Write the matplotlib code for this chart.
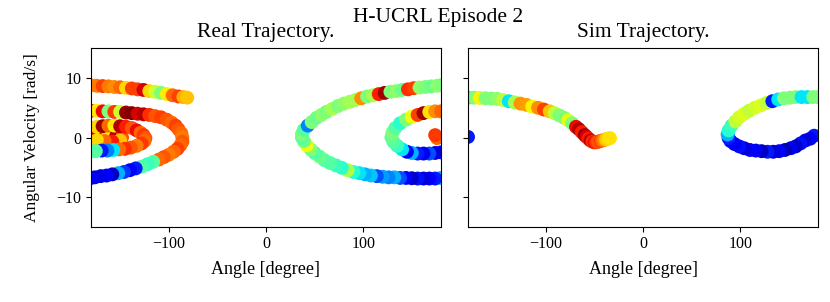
import numpy as np
import matplotlib
matplotlib.use("Agg")
import matplotlib.pyplot as plt

plt.rcParams['font.family'] = ['Liberation Serif', 'DejaVu Serif']

# Real trajectory, split into the swings seen in the picture
# (angle [deg], angular velocity [rad/s], colour value 0..1 on jet)
real_a1 = [176, 174, -179, -170, -162, -154, -148, -150, -158, -166, -174]
real_v1 = [-0.1, 0.4, 0.2, 0.4, 0.5, 0.3, 0.0, -0.5, -0.7, -0.6, -0.4]
real_c1 = [0.8, 0.85, 0.82, 0.9, 0.66, 0.95, 0.82, 0.7, 0.88, 0.8, 0.68]

real_a2 = [-180, -174, -168, -162, -156, -150, -144, -138, -133, -129, -126, -124,
           -125, -128, -133, -139, -145, -151, -157, -163, -169, -175, -180]
real_v2 = [1.6, 1.8, 1.9, 2.0, 2.0, 1.9, 1.8, 1.6, 1.2, 0.8, 0.4, -0.1,
           -0.6, -1.0, -1.4, -1.7, -1.9, -2.0, -2.1, -2.2, -2.2, -2.3, -2.3]
real_c2 = [0.9, 0.68, 0.97, 0.8, 0.66, 0.95, 0.88, 0.82, 0.9, 0.8, 0.85, 0.82,
           0.8, 0.85, 0.78, 0.82, 0.86, 0.8, 0.35, 0.25, 0.15, 0.45, 0.45]

real_a3 = [180, 174, 168, 162, 156, 150, 145, 140, 135, 131, 129, 130, 133, 138,
           144, 150, 156, 162, 168, 174, 180]
real_v3 = [-2.5, -2.6, -2.7, -2.7, -2.7, -2.6, -2.4, -2.0, -1.4, -0.7, 0.0, 0.8,
           1.6, 2.4, 3.0, 3.5, 3.8, 4.1, 4.3, 4.4, 4.4]
real_c3 = [0.12, 0.08, 0.2, 0.1, 0.15, 0.3, 0.12, 0.35, 0.42, 0.45, 0.47, 0.5,
           0.45, 0.4, 0.5, 0.64, 0.84, 0.97, 0.67, 0.76, 0.8]

real_a4 = [-180, -174, -168, -162, -156, -150, -144, -138, -132, -126, -120, -114,
           -108, -102, -97, -93, -90, -87, -86, -86, -88, -91, -95, -100, -105,
           -110, -116, -122, -128, -134, -140, -146, -152, -158, -164, -170, -176, -180]
real_v4 = [4.5, 4.5, 4.4, 4.4, 4.3, 4.3, 4.2, 4.1, 4.0, 3.9, 3.8, 3.6,
           3.4, 3.0, 2.5, 2.0, 1.4, 0.7, 0.0, -0.7, -1.3, -1.9, -2.4, -2.9, -3.3,
           -3.7, -4.1, -4.5, -4.9, -5.2, -5.5, -5.8, -6.0, -6.2, -6.4, -6.5, -6.7, -6.8]
real_c4 = [0.88, 0.66, 0.9, 0.5, 0.85, 0.6, 0.98, 1.0, 0.92, 0.95, 0.86, 0.82,
           0.84, 0.82, 0.8, 0.84, 0.82, 0.8, 0.78, 0.82, 0.8, 0.84, 0.8, 0.78, 0.82,
           0.8, 0.45, 0.42, 0.45, 0.15, 0.12, 0.18, 0.3, 0.06, 0.12, 0.1, 0.08, 0.12]

real_a5 = [180, 174, 168, 162, 156, 150, 144, 138, 132, 126, 120, 114, 108, 102,
           96, 90, 84, 78, 72, 66, 60, 55, 50, 46, 42, 39, 37, 37, 39, 43, 47, 52,
           57, 62, 68, 74, 80, 86, 92, 98, 104, 110, 116, 122, 128, 134, 140, 146,
           152, 158, 164, 170, 176, 180]
real_v5 = [-6.8, -6.9, -6.9, -6.9, -6.9, -6.85, -6.8, -6.8, -6.7, -6.7, -6.6, -6.5,
           -6.4, -6.2, -6.0, -5.8, -5.5, -5.1, -4.7, -4.3, -3.8, -3.2, -2.6, -2.0,
           -1.3, -0.6, 0.0, 0.6, 1.3, 2.0, 2.6, 3.3, 3.8, 4.3, 4.8, 5.3, 5.7, 6.0,
           6.3, 6.6, 6.9, 7.1, 7.3, 7.5, 7.7, 7.8, 8.0, 8.1, 8.3, 8.4, 8.5, 8.6,
           8.7, 8.8]
real_c5 = [0.3, 0.15, 0.12, 0.08, 0.14, 0.06, 0.12, 0.2, 0.3, 0.25, 0.28, 0.2,
           0.32, 0.3, 0.35, 0.4, 0.56, 0.4, 0.42, 0.45, 0.45, 0.48, 0.45, 0.5,
           0.64, 0.48, 0.46, 0.5, 0.45, 0.25, 0.5, 0.48, 0.52, 0.5, 0.55, 0.5,
           0.52, 0.55, 0.55, 0.76, 0.5, 0.55, 0.88, 0.97, 0.5, 0.52, 0.48, 0.86,
           0.84, 0.52, 0.5, 0.48, 0.52, 0.5]

real_a6 = [-180, -174, -168, -162, -156, -150, -144, -138, -132, -126, -120, -114,
           -108, -102, -96, -90, -85, -81]
real_v6 = [8.8, 8.7, 8.65, 8.6, 8.5, 8.45, 8.35, 8.25, 8.1, 8.0, 7.8, 7.7,
           7.5, 7.3, 7.1, 6.9, 6.8, 6.7]
real_c6 = [0.75, 0.78, 0.84, 0.78, 0.76, 0.8, 0.68, 0.84, 0.84, 0.92, 0.68, 0.6,
           0.5, 0.66, 0.8, 0.84, 0.72, 0.7]

# Simulated trajectory
sim_a1 = [-180, 176, 172, 167, 162, 157, 152, 146, 140, 134, 128, 122, 116, 110,
          104, 99, 94, 90, 88, 87, 88, 91, 95, 99, 104, 109, 115, 121, 127, 133,
          139, 145, 151, 157, 163, 169, 175, 180]
sim_v1 = [0.1, 0.3, -0.2, -0.5, -1.0, -1.5, -1.8, -2.1, -2.3, -2.4, -2.4, -2.3,
          -2.2, -2.1, -1.8, -1.5, -1.1, -0.6, -0.1, 0.5, 1.2, 2.0, 2.7, 3.4, 4.0,
          4.5, 5.0, 5.4, 5.8, 6.1, 6.4, 6.6, 6.7, 6.8, 6.8, 6.8, 6.8, 6.8]
sim_c1 = [0.15, 0.15, 0.12, 0.08, 0.14, 0.06, 0.1, 0.05, 0.12, 0.08, 0.15, 0.06,
          0.1, 0.12, 0.08, 0.14, 0.1, 0.12, 0.15, 0.3, 0.4, 0.42, 0.58, 0.6, 0.62,
          0.58, 0.6, 0.62, 0.58, 0.15, 0.35, 0.5, 0.5, 0.5, 0.35, 0.35, 0.5, 0.5]

sim_a2 = [-180, -174, -168, -162, -156, -150, -144, -138, -132, -126, -120, -114,
          -108, -102, -96, -91, -86, -81, -77, -73, -69, -66, -63, -60, -58, -56,
          -54, -52, -50, -48, -46, -44, -42, -40, -38, -36, -34]
sim_v2 = [6.7, 6.7, 6.65, 6.6, 6.55, 6.5, 6.3, 6.1, 5.9, 5.7, 5.5, 5.2, 5.0, 4.7,
          4.4, 4.1, 3.7, 3.3, 2.9, 2.4, 1.8, 1.4, 0.9, 0.4, 0.1, -0.2, -0.5, -0.7,
          -0.8, -0.8, -0.7, -0.6, -0.5, -0.4, -0.3, -0.2, -0.1]
sim_c2 = [0.35, 0.5, 0.65, 0.5, 0.5, 0.52, 0.58, 0.35, 0.55, 0.75, 0.74, 0.65,
          0.76, 0.84, 0.7, 0.58, 0.5, 0.5, 0.63, 0.5, 0.9, 0.95, 0.88, 0.98, 0.92,
          0.88, 0.95, 0.86, 0.9, 0.85, 0.82, 0.84, 0.8, 0.76, 0.7, 0.68, 0.67]

real_a = np.concatenate([real_a1, real_a2, real_a3, real_a4, real_a5, real_a6])
real_v = np.concatenate([real_v1, real_v2, real_v3, real_v4, real_v5, real_v6])
real_c = np.concatenate([real_c1, real_c2, real_c3, real_c4, real_c5, real_c6])
sim_a = np.concatenate([sim_a1, sim_a2])
sim_v = np.concatenate([sim_v1, sim_v2])
sim_c = np.concatenate([sim_c1, sim_c2])

fig = plt.figure(figsize=(8.3, 3.02), dpi=100)
ax1 = fig.add_axes([0.1096, 0.2494, 0.4217, 0.5906])
ax2 = fig.add_axes([0.5639, 0.2494, 0.4217, 0.5906], sharey=ax1)

ax1.scatter(real_a, real_v, c=real_c, cmap='jet', vmin=0, vmax=1, s=100,
            linewidths=0)
ax2.scatter(sim_a, sim_v, c=sim_c, cmap='jet', vmin=0, vmax=1, s=100,
            linewidths=0)

for ax in (ax1, ax2):
    ax.set_xlim(-180, 180)
    ax.set_ylim(-15, 15)
    ax.set_xticks([-100, 0, 100])
    ax.set_yticks([-10, 0, 10])
    ax.set_xlabel("Angle [degree]", fontsize=13, labelpad=6)
    ax.tick_params(labelsize=11.5)
ax2.tick_params(labelleft=False)

ax1.set_ylabel("Angular Velocity [rad/s]", fontsize=12.5, labelpad=12)
ax1.set_title("Real Trajectory.", fontsize=15.5, pad=8)
ax2.set_title("Sim Trajectory.", fontsize=15.5, pad=8)
fig.suptitle("H-UCRL Episode 2", x=0.528, y=0.972, fontsize=15.5)

plt.savefig('out.png', dpi=100)
plt.close()
